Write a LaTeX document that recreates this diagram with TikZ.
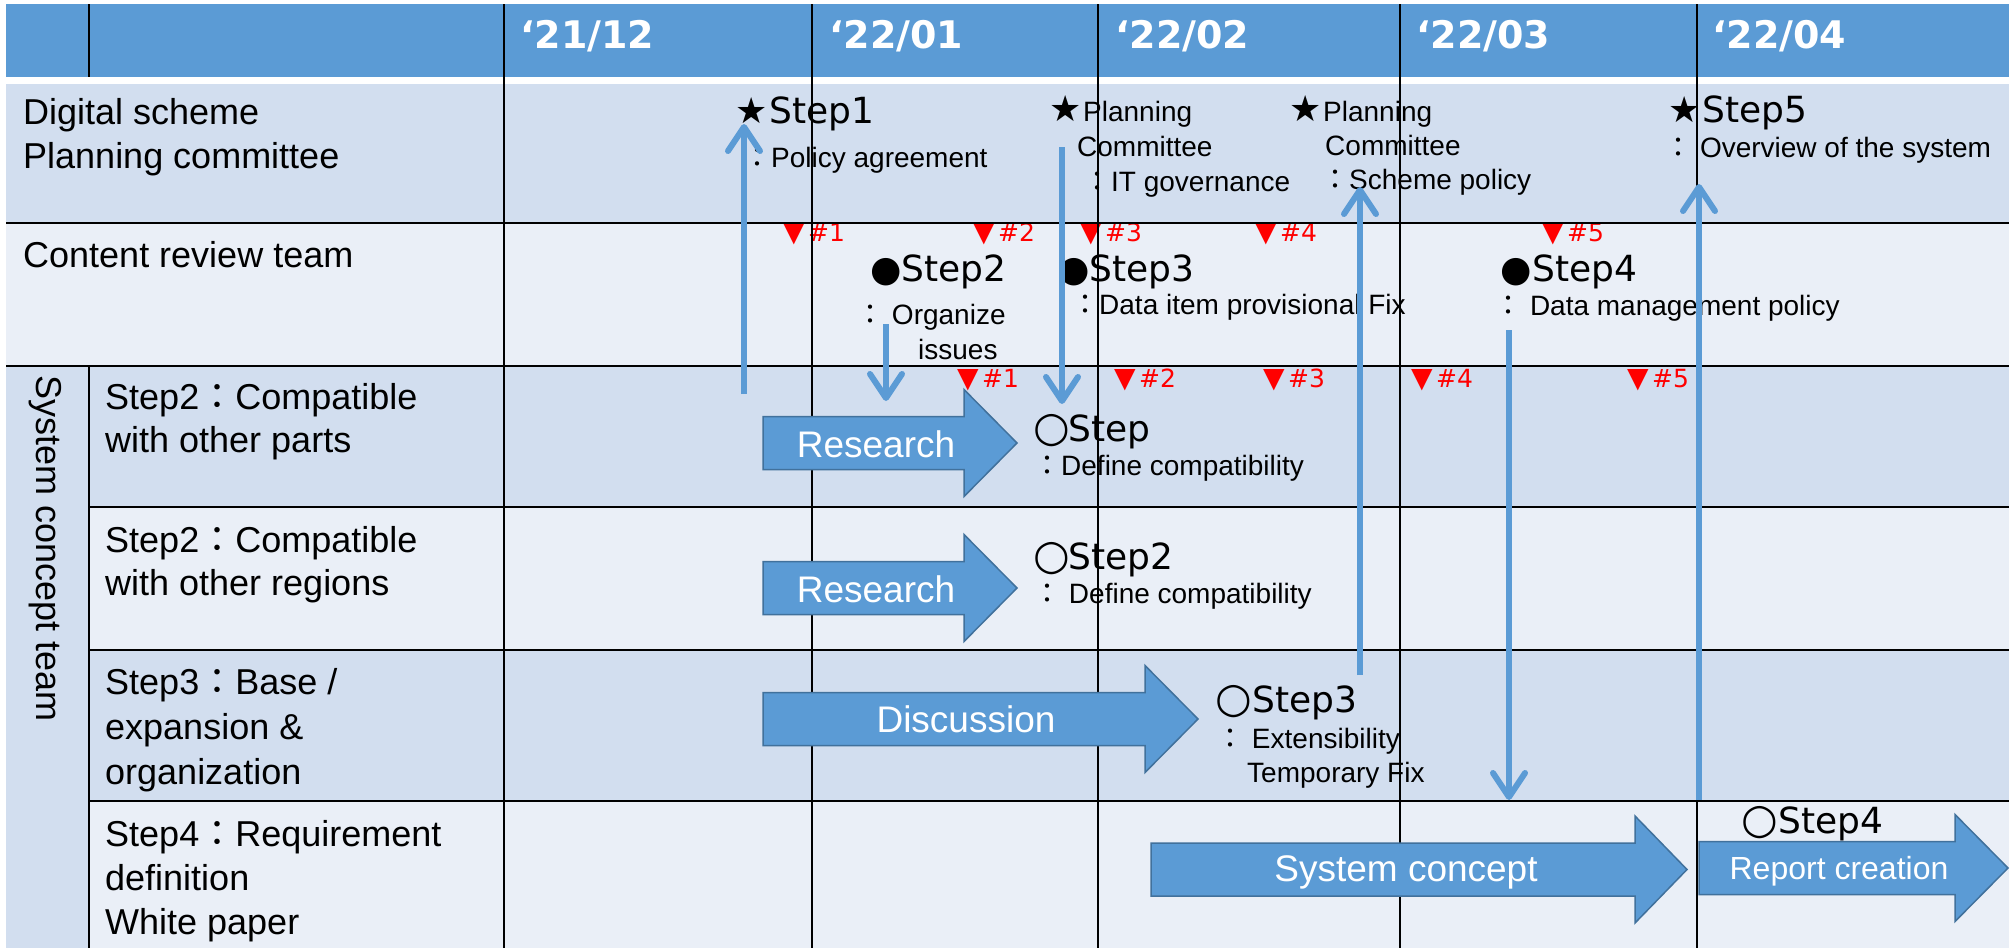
\documentclass[tikz,border=0pt]{standalone}
\usepackage{fontspec}
\setmainfont{Liberation Sans}
\newfontfamily\dvs{DejaVu Sans}
\newfontfamily\cjk{Noto Sans CJK JP}
\usetikzlibrary{arrows.meta}

\definecolor{hdrblue}{HTML}{5B9BD5}
\definecolor{rowdark}{HTML}{D2DEEF}
\definecolor{rowlight}{HTML}{EAEFF7}
\definecolor{arrowedge}{HTML}{41719C}

% full-width colon and fixed-width symbol boxes
\newcommand{\fwc}{{\cjk ：}}
\newcommand{\symb}[2]{\makebox[#1][l]{#2}}
\newcommand{\ring}{{\fontsize{42}{42}\selectfont ○}}
\newcommand{\tri}{\makebox[25pt][l]{{\fontsize{28}{28}\selectfont ▼}}}
% block arrow: left x, head start x, tip x, centre y
\newcommand{\blockarrow}[4]{%
  \path[blk] (#1,#4-26.5) -- (#2,#4-26.5) -- (#2,#4-53.5) -- (#3,#4)
    -- (#2,#4+53.5) -- (#2,#4+26.5) -- (#1,#4+26.5) -- cycle;}

\begin{document}
\begin{tikzpicture}[x=1pt,y=-1pt,
  % multi-line labels are placed at the baseline of their last line
  lbl/.style={anchor=base west, inner sep=0, align=left,
    font=\fontsize{36}{44}\selectfont},
  desc/.style={anchor=base west, inner sep=0, align=left,
    font=\fontsize{28}{35}\selectfont},
  stepl/.style={anchor=base west, inner sep=0, font=\dvs\fontsize{36}{44}\selectfont},
  redmk/.style={anchor=base west, inner sep=0, text=red,
    font=\dvs\fontsize{25}{28}\selectfont},
  hdr/.style={anchor=base west, inner sep=0, text=white,
    font=\dvs\bfseries\fontsize{38}{44}\selectfont},
  blk/.style={fill=hdrblue, draw=arrowedge, line width=1.5pt, line join=miter},
  blktext/.style={anchor=base, inner sep=0, text=white,
    font=\fontsize{37}{44}\selectfont},
  grid/.style={draw=black, line width=1.8pt},
  hgrid/.style={draw=black, line width=2.4pt},
  link/.style={draw=hdrblue, line width=6pt,
    -{Straight Barb[length=24pt,width=32pt,round]}}
]
\useasboundingbox (0,0) rectangle (2015,948);

% ---- backgrounds
\fill[hdrblue] (6,4) rectangle (2009,77);
\fill[rowdark]  (6,84)  rectangle (2009,223);
\fill[rowlight] (6,223) rectangle (2009,366);
\fill[rowdark]  (6,366) rectangle (89,948);
\fill[rowdark]  (89,366) rectangle (2009,507);
\fill[rowlight] (89,507) rectangle (2009,650);
\fill[rowdark]  (89,650) rectangle (2009,801);
\fill[rowlight] (89,801) rectangle (2009,948);

% ---- header months
\node[hdr] (h1) at (520,48) {‘21/12};
\node[hdr] (h2) at (829,48) {‘22/01};
\node[hdr] (h3) at (1115,48) {‘22/02};
\node[hdr] (h4) at (1416,48) {‘22/03};
\node[hdr] (h5) at (1712,48) {‘22/04};

% ---- row labels
\node[lbl] (r1) at (23,168) {Digital scheme\\Planning committee};
\node[lbl] (r2) at (23,267) {Content review team};
\node[lbl, rotate=-90] (team) at (36,375) {System concept team};
\node[lbl, font=\fontsize{36}{43}\selectfont] (r3) at (105,452) {Step2\fwc Compatible\\with other parts};
\node[lbl, font=\fontsize{36}{43}\selectfont] (r4) at (105,595) {Step2\fwc Compatible\\with other regions};
\node[lbl, font=\fontsize{36}{45}\selectfont] (r5) at (105,784) {Step3\fwc Base /\\expansion \&\\organization};
\node[lbl] (r6) at (105,934) {Step4\fwc Requirement\\definition\\White paper};

% ---- milestones: planning committee
\node[stepl] (m1) at (735,123) {\symb{34pt}{★}Step1};
\node[desc] (m1d) at (743,167) {\fwc Policy agreement};
\node[stepl] (m2s) at (1049,121) {★};
\node[desc] (m2a) at (1083,121) {Planning};
\node[desc] (m2b) at (1077,156) {Committee};
\node[desc] (m2c) at (1083,191) {\fwc IT governance};
\node[stepl] (m3s) at (1289,121) {★};
\node[desc] (m3a) at (1323,121) {Planning};
\node[desc] (m3b) at (1325,155) {Committee};
\node[desc] (m3c) at (1321,189) {\fwc Scheme policy};
\node[stepl] (m5) at (1668,122) {\symb{34pt}{★}Step5};
\node[desc] (m5d) at (1664,157) {\fwc\ Overview of the system};

% ---- milestones: content review team
\node[stepl] (c2) at (870,281) {\symb{31pt}{●}Step2};
\node[desc] (c2d) at (856,324) {\fwc\ Organize};
\node[desc] (c2e) at (918,359) {issues};
\node[stepl] (c3) at (1058,281) {\symb{31pt}{●}Step3};
\node[desc] (c3d) at (1071,314) {\fwc Data item provisional Fix};
\node[stepl] (c4) at (1500,281) {\symb{32pt}{●}Step4};
\node[desc] (c4d) at (1494,315) {\fwc\ Data management policy};

% ---- milestones: system concept team
\node[stepl] (s1) at (1033,441) {\symb{35pt}{\ring}Step};
\node[desc] (s1d) at (1033,475) {\fwc Define compatibility};
\node[stepl] (s2) at (1033,569) {\symb{35pt}{\ring}Step2};
\node[desc] (s2d) at (1033,603) {\fwc\ Define compatibility};
\node[stepl] (s3) at (1215,712) {\symb{37pt}{\ring}Step3};
\node[desc] (s3d) at (1216,748) {\fwc\ Extensibility};
\node[desc] (s3e) at (1247,782) {Temporary Fix};
\node[stepl] (s4) at (1741,833) {\symb{37pt}{\ring}Step4};

% ---- meeting markers
\node[redmk] (k21) at (783,241) {\tri\#1};
\node[redmk] (k22) at (973,241) {\tri\#2};
\node[redmk] (k23) at (1080,241) {\tri\#3};
\node[redmk] (k24) at (1255,241) {\tri\#4};
\node[redmk] (k25) at (1542,241) {\tri\#5};
\node[redmk] (k31) at (957,387) {\tri\#1};
\node[redmk] (k32) at (1114,387) {\tri\#2};
\node[redmk] (k33) at (1263,387) {\tri\#3};
\node[redmk] (k34) at (1411,387) {\tri\#4};
\node[redmk] (k35) at (1627,387) {\tri\#5};

% ---- grid
\foreach \gx in {504,812,1098,1400,1697} \draw[grid] (\gx,4) -- (\gx,948);
\draw[grid] (89,4) -- (89,77);
\draw[grid] (89,366) -- (89,948);
\draw[hgrid] (6,223) -- (2009,223);
\draw[hgrid] (6,366) -- (2009,366);
\foreach \gy in {507,650,801} \draw[hgrid] (89,\gy) -- (2009,\gy);

% ---- work arrows
\blockarrow{763}{964}{1017}{443}
\node[blktext] (b1) at (876,457) {Research};
\blockarrow{763}{964}{1017}{588}
\node[blktext] (b2) at (876,602) {Research};
\blockarrow{763}{1145}{1198}{719}
\node[blktext] (b3) at (966,732) {Discussion};
\blockarrow{1151}{1635}{1687}{869.5}
\node[blktext] (b4) at (1406,881) {System concept};
\blockarrow{1699}{1955}{2008}{868}
\node[blktext, font=\fontsize{32}{38}\selectfont] (b5) at (1839,879) {Report creation};

% ---- hand-over links
\coordinate (l1a) at (744,394);  \coordinate (l1b) at (744,124);
\coordinate (l2a) at (1062,147); \coordinate (l2b) at (1062,404);
\coordinate (l3a) at (886,324);  \coordinate (l3b) at (886,401);
\coordinate (l4a) at (1360,675); \coordinate (l4b) at (1360,187);
\coordinate (l5a) at (1509,330); \coordinate (l5b) at (1509,800);
\coordinate (l6a) at (1699,800); \coordinate (l6b) at (1699,184);
\draw[link] (l1a) -- (l1b);
\draw[link] (l2a) -- (l2b);
\draw[link] (l3a) -- (l3b);
\draw[link] (l4a) -- (l4b);
\draw[link] (l5a) -- (l5b);
\draw[link] (l6a) -- (l6b);
\end{tikzpicture}
\end{document}
